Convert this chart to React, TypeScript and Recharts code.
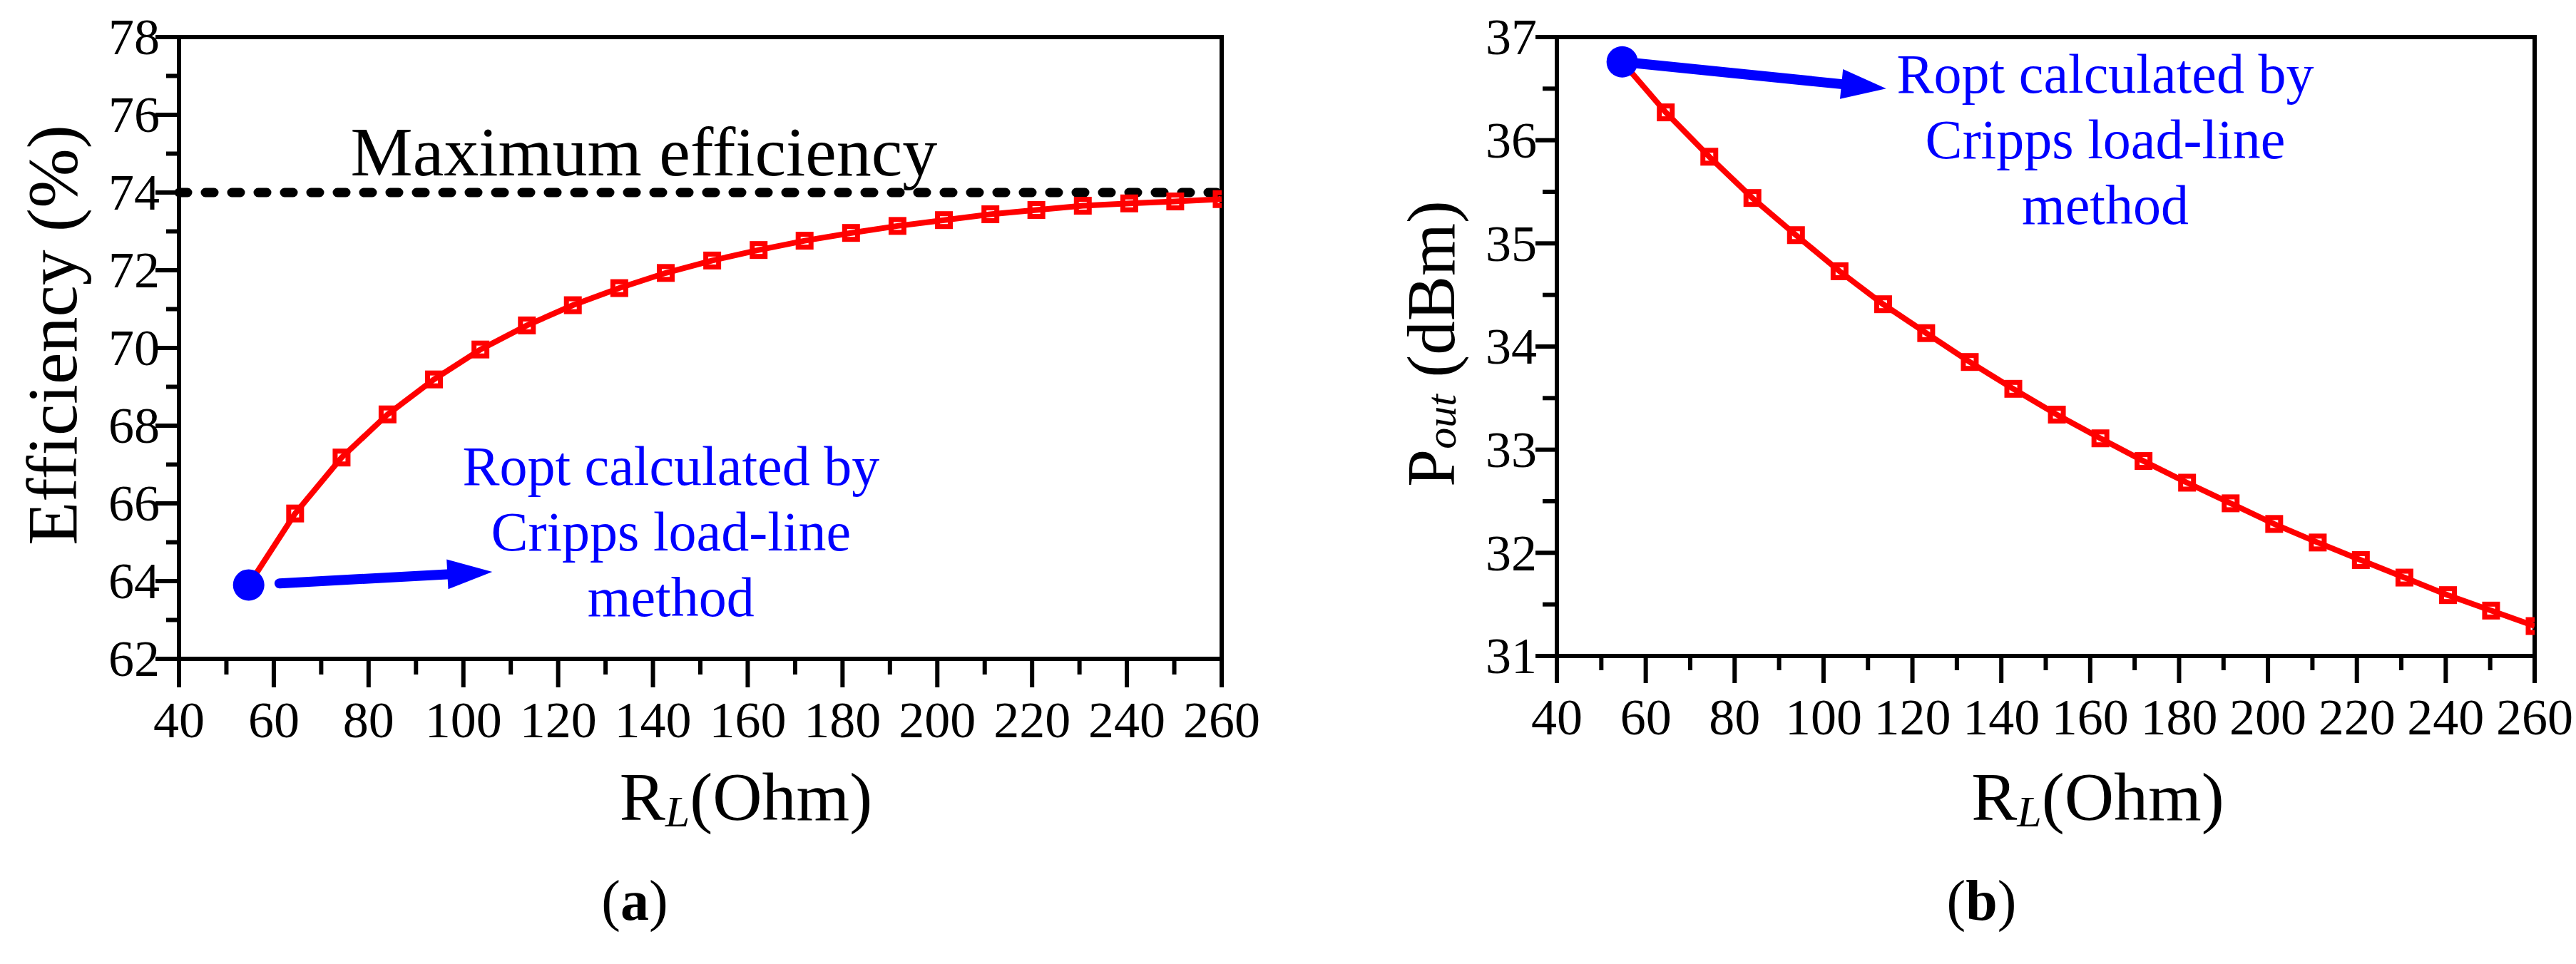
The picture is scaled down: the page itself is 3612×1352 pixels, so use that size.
import React from 'react';
import { LineChart, Line, XAxis, YAxis, ReferenceLine, ReferenceArea, ReferenceDot } from 'recharts';

// ---------- data ----------
const loadResistance = [54.7, 64.5, 74.3, 84.0, 93.8, 103.6, 113.4, 123.1, 132.9, 142.7, 152.5, 162.3, 172.0, 181.8, 191.6, 201.4, 211.2, 220.9, 230.7, 240.5, 250.2, 260];
const efficiency = [63.9, 65.74, 67.18, 68.29, 69.19, 69.96, 70.58, 71.1, 71.54, 71.93, 72.25, 72.52, 72.76, 72.96, 73.14, 73.29, 73.44, 73.55, 73.66, 73.72, 73.77, 73.83];
const outputPower = [36.76, 36.27, 35.84, 35.44, 35.08, 34.73, 34.41, 34.13, 33.85, 33.59, 33.34, 33.11, 32.89, 32.68, 32.48, 32.28, 32.1, 31.93, 31.76, 31.59, 31.44, 31.29];

const xTicks = [40, 50, 60, 70, 80, 90, 100, 110, 120, 130, 140, 150, 160, 170, 180, 190, 200, 210, 220, 230, 240, 250, 260];
const effTicks = [62, 63, 64, 65, 66, 67, 68, 69, 70, 71, 72, 73, 74, 75, 76, 77, 78];
const poutTicks = [31, 31.5, 32, 32.5, 33, 33.5, 34, 34.5, 35, 35.5, 36, 36.5, 37];
const maxEfficiency = 74;
const annotationLines = ['Ropt calculated by', 'Cripps load-line', 'method'];

// annotation anchors in data units
const maxEffLabelPos = { x: 138.1, y: 74.44 };
const arrowA = [{ x: 61.2, y: 63.94 }, { x: 106.1, y: 64.24 }];
const textA = { x: 143.8, y: 66.48 };
const arrowB = [{ x: 54.7, y: 36.76 }, { x: 114.1, y: 36.5 }];
const textB = { x: 163.4, y: 36.46 };

const dataA = loadResistance.map((r, i) => ({ rl: r, v: efficiency[i] }));
const dataB = loadResistance.map((r, i) => ({ rl: r, v: outputPower[i] }));

const FONT = '"Liberation Serif", "Times New Roman", Times, serif';
const RED = '#FF0000';
const BLUE = '#0000FF';
const serif: React.CSSProperties = { fontFamily: FONT, fontVariantLigatures: 'none' };

function makeXTick(majorLen: number, minorLen: number) {
  return (props: any) => {
    const { x, y, payload } = props;
    const v = payload.value;
    const major = v % 20 === 0;
    return (
      <g>
        <line x1={x} x2={x} y1={y} y2={y + (major ? majorLen : minorLen)} stroke="#000" strokeWidth={6} />
        {major && (
          <text x={x} y={y + 110} textAnchor="middle" fontSize={72} style={serif} fill="#000">
            {v}
          </text>
        )}
      </g>
    );
  };
}

function makeYTick(isMajor: (v: number) => boolean, majorLen: number, minorLen: number, offset: number) {
  return (props: any) => {
    const { x, y, payload } = props;
    const v = payload.value;
    const major = isMajor(v);
    return (
      <g>
        <line x1={x} x2={x - (major ? majorLen : minorLen)} y1={y} y2={y} stroke="#000" strokeWidth={6} />
        {major && (
          <text x={x - offset} y={y} dy="0.34em" textAnchor="end" fontSize={72} style={serif} fill="#000">
            {v}
          </text>
        )}
      </g>
    );
  };
}

const renderDot = (props: any) => {
  const { cx, cy, index } = props;
  if (index === 0) {
    return <circle key={`d${index}`} cx={cx} cy={cy} r={22} fill={BLUE} />;
  }
  return (
    <rect key={`d${index}`} x={cx - 9} y={cy - 9} width={18} height={18} fill="none" stroke={RED} strokeWidth={7} />
  );
};

const ArrowShape = (props: any) => {
  const { x1, y1, x2, y2 } = props;
  const dx = x2 - x1;
  const dy = y2 - y1;
  const len = Math.hypot(dx, dy) || 1;
  const ux = dx / len;
  const uy = dy / len;
  const nx = -uy;
  const ny = ux;
  const headLen = 63;
  const headHalf = 21;
  const bx = x2 - ux * headLen;
  const by = y2 - uy * headLen;
  return (
    <g>
      <line x1={x1} y1={y1} x2={bx + ux * 4} y2={by + uy * 4} stroke={BLUE} strokeWidth={14} strokeLinecap="round" />
      <polygon
        points={`${x2},${y2} ${bx + nx * headHalf},${by + ny * headHalf} ${bx - nx * headHalf},${by - ny * headHalf}`}
        fill={BLUE}
      />
    </g>
  );
};

const AnnotationText = (props: any) => {
  const { cx, cy } = props;
  return (
    <text x={cx} y={cy} textAnchor="middle" fontSize={78} style={serif} fill={BLUE}>
      {annotationLines.map((t, i) => (
        <tspan key={t} x={cx} y={cy + i * 92}>
          {t}
        </tspan>
      ))}
    </text>
  );
};

const MaxEffText = (props: any) => {
  const { cx, cy } = props;
  return (
    <text x={cx} y={cy} textAnchor="middle" fontSize={98} style={serif} fill="#000">
      Maximum efficiency
    </text>
  );
};

const XTitle = (props: any) => {
  const { viewBox, titleDx, titleDy, capDx, capDy, cap } = props;
  const vb = viewBox || { x: 0, y: 0, width: 0, height: 0 };
  const cx = vb.x + vb.width / 2;
  return (
    <g>
      <text x={cx + titleDx} y={vb.y + titleDy} textAnchor="middle" fontSize={96} style={serif} fill="#000">
        R
        <tspan fontStyle="italic" fontSize={62} dy={9}>
          L
        </tspan>
        <tspan dy={-9}>(Ohm)</tspan>
      </text>
      <text x={cx + capDx} y={vb.y + capDy} textAnchor="middle" fontSize={80} style={serif} fill="#000">
        (<tspan fontWeight="bold">{cap}</tspan>)
      </text>
    </g>
  );
};

const YTitle = (props: any) => {
  const { viewBox, dxFromRight, dyFromMid, kind } = props;
  const vb = viewBox || { x: 0, y: 0, width: 0, height: 0 };
  const x = vb.x + vb.width - dxFromRight;
  const y = vb.y + vb.height / 2 + dyFromMid;
  return (
    <text
      x={x}
      y={y}
      transform={`rotate(-90 ${x} ${y})`}
      textAnchor="middle"
      dominantBaseline="central"
      fontSize={kind === 'a' ? 100 : 95}
      style={serif}
      fill="#000"
    >
      {kind === 'a' ? (
        'Efficiency (%)'
      ) : (
        <>
          P
          <tspan fontStyle="italic" fontSize={60} dy={14}>
            out
          </tspan>
          <tspan dy={-14}> (dBm)</tspan>
        </>
      )}
    </text>
  );
};

export default function App() {
  return (
    <div style={{ position: 'absolute', left: 0, top: 0, width: 3612, height: 1352, background: '#fff', fontFamily: FONT }}>
      <div style={{ position: 'absolute', left: 0, top: 0 }}>
        <LineChart width={1806} height={1352} data={dataA} margin={{ top: 52, right: 93, bottom: 0, left: 0 }} style={serif}>
          <XAxis
            dataKey="rl"
            type="number"
            domain={[40, 260]}
            ticks={xTicks}
            interval={0}
            allowDataOverflow
            height={428}
            tickSize={0}
            tickMargin={0}
            tickLine={false}
            axisLine={{ stroke: '#000', strokeWidth: 6 }}
            tick={makeXTick(40, 22)}
            label={<XTitle titleDx={64} titleDy={226} capDx={-92} capDy={366} cap="a" />}
          />
          <YAxis
            type="number"
            domain={[62, 78]}
            ticks={effTicks}
            interval={0}
            allowDataOverflow
            width={251}
            tickSize={0}
            tickMargin={0}
            tickLine={false}
            axisLine={{ stroke: '#000', strokeWidth: 6 }}
            tick={makeYTick((v) => v % 2 === 0, 33, 18, 27)}
            label={<YTitle kind="a" dxFromRight={178} dyFromMid={-18} />}
          />
          <ReferenceArea x1={40} x2={260} y1={62} y2={78} fill="none" stroke="#000" strokeWidth={6} ifOverflow="visible" />
          <ReferenceLine
            y={maxEfficiency}
            stroke="#000"
            strokeWidth={13}
            strokeDasharray="12 25"
            strokeLinecap="round"
          />
          <ReferenceDot x={maxEffLabelPos.x} y={maxEffLabelPos.y} r={1} shape={MaxEffText} />
          <Line
            dataKey="v"
            stroke={RED}
            strokeWidth={8}
            type="linear"
            dot={renderDot}
            activeDot={false}
            isAnimationActive={false}
          />
          <ReferenceLine segment={arrowA} shape={ArrowShape} ifOverflow="visible" />
          <ReferenceDot x={textA.x} y={textA.y} r={1} shape={AnnotationText} />
        </LineChart>
      </div>
      <div style={{ position: 'absolute', left: 1806, top: 0 }}>
        <LineChart width={1806} height={1352} data={dataB} margin={{ top: 52, right: 58, bottom: 0, left: 0 }} style={serif}>
          <XAxis
            dataKey="rl"
            type="number"
            domain={[40, 260]}
            ticks={xTicks}
            interval={0}
            allowDataOverflow
            height={432}
            tickSize={0}
            tickMargin={0}
            tickLine={false}
            axisLine={{ stroke: '#000', strokeWidth: 6 }}
            tick={makeXTick(38, 20)}
            label={<XTitle titleDx={73} titleDy={230} capDx={-90} capDy={370} cap="b" />}
          />
          <YAxis
            type="number"
            domain={[31, 37]}
            ticks={poutTicks}
            interval={0}
            allowDataOverflow
            width={377}
            tickSize={0}
            tickMargin={0}
            tickLine={false}
            axisLine={{ stroke: '#000', strokeWidth: 6 }}
            tick={makeYTick((v) => Number.isInteger(v), 30, 20, 28)}
            label={<YTitle kind="b" dxFromRight={176} dyFromMid={-4} />}
          />
          <ReferenceArea x1={40} x2={260} y1={31} y2={37} fill="none" stroke="#000" strokeWidth={6} ifOverflow="visible" />
          <ReferenceLine segment={arrowB} shape={ArrowShape} ifOverflow="visible" />
          <Line
            dataKey="v"
            stroke={RED}
            strokeWidth={8}
            type="linear"
            dot={renderDot}
            activeDot={false}
            isAnimationActive={false}
          />
          <ReferenceDot x={textB.x} y={textB.y} r={1} shape={AnnotationText} />
        </LineChart>
      </div>
    </div>
  );
}
